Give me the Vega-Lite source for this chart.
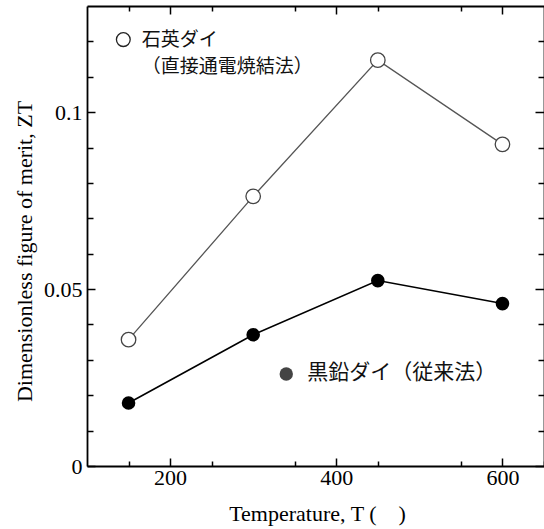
{
  "$schema": "https://vega.github.io/schema/vega-lite/v6.json",
  "width": 457,
  "height": 460,
  "autosize": "none",
  "padding": {"left": 87, "top": 6, "right": 0, "bottom": 63},
  "background": "white",
  "config": {
    "view": {"stroke": null},
    "axis": {
      "labelFont": "Liberation Serif",
      "titleFont": "Liberation Serif",
      "labelFontSize": 22,
      "titleFontSize": 22,
      "labelColor": "black",
      "titleColor": "black",
      "titleFontWeight": "normal",
      "domainColor": "black",
      "tickColor": "black",
      "domainWidth": 1.8,
      "tickWidth": 1.5,
      "grid": false
    }
  },
  "datasets": {
    "zt": [
      {"series": "quartz", "T": 150, "ZT": 0.0357},
      {"series": "quartz", "T": 300, "ZT": 0.0762},
      {"series": "quartz", "T": 450, "ZT": 0.1147},
      {"series": "quartz", "T": 600, "ZT": 0.0909},
      {"series": "graphite", "T": 150, "ZT": 0.0178},
      {"series": "graphite", "T": 300, "ZT": 0.0371},
      {"series": "graphite", "T": 450, "ZT": 0.0524},
      {"series": "graphite", "T": 600, "ZT": 0.0459}
    ],
    "quartzNotes": [
      {"text": "石英ダイ", "x": 166, "y": 0.12053},
      {"text": "（直接通電焼結法）", "x": 166, "y": 0.11262}
    ],
    "graphiteNotes": [
      {"text": "黒鉛ダイ（従来法）", "x": 365, "y": 0.0263}
    ],
    "openKey": [{"x": 143.7, "y": 0.1205}],
    "filledKey": [{"x": 339.8, "y": 0.026}]
  },
  "layer": [
    {
      "data": {"name": "zt"},
      "transform": [{"filter": "datum.series === 'quartz'"}],
      "mark": {"type": "line", "color": "#555555", "strokeWidth": 1.3},
      "encoding": {
        "x": {"field": "T", "type": "quantitative",
              "scale": {"domain": [100, 650], "nice": false, "zero": false},
              "axis": {"orient": "bottom", "values": [200, 400, 600], "tickSize": -8, "labelPadding": 9,
                       "title": "Temperature, T (\u00a0\u00a0\u00a0\u00a0)", "titleX": 230, "titleY": 54, "titleBaseline": "alphabetic", "titleAlign": "center"}},
        "y": {"field": "ZT", "type": "quantitative",
              "scale": {"domain": [0, 0.13], "nice": false, "zero": true},
              "axis": {"orient": "left", "values": [0, 0.05, 0.1], "format": "~g", "tickSize": -8, "labelPadding": 13,
                       "title": "Dimensionless figure of merit, ZT", "titleAngle": 270, "titleX": -63, "titleY": 245,
                       "titleBaseline": "middle", "titleAlign": "center"}}
      }
    },
    {
      "data": {"name": "zt"},
      "transform": [{"filter": "datum.series === 'quartz'"}],
      "mark": {"type": "point", "shape": "circle", "filled": true, "fill": "white", "stroke": "#444444", "strokeWidth": 1.3, "size": 210, "opacity": 1},
      "encoding": {
        "x": {"field": "T", "type": "quantitative",
              "axis": {"orient": "bottom", "values": [150, 250, 350, 450, 550, 650], "tickSize": -5, "labels": false, "domain": false, "title": null}},
        "y": {"field": "ZT", "type": "quantitative",
              "axis": {"orient": "left", "values": [0.01, 0.02, 0.03, 0.04, 0.06, 0.07, 0.08, 0.09, 0.11, 0.12], "tickSize": -6, "labels": false, "domain": false, "title": null}}
      }
    },
    {
      "data": {"name": "zt"},
      "transform": [{"filter": "datum.series === 'graphite'"}],
      "mark": {"type": "line", "color": "black", "strokeWidth": 1.6},
      "encoding": {
        "x": {"field": "T", "type": "quantitative",
              "axis": {"orient": "top", "values": [200, 400, 600], "tickSize": -8, "labels": false, "title": null}},
        "y": {"field": "ZT", "type": "quantitative",
              "axis": {"orient": "right", "values": [0, 0.05, 0.1], "tickSize": -9, "labels": false, "title": null}}
      }
    },
    {
      "data": {"name": "zt"},
      "transform": [{"filter": "datum.series === 'graphite'"}],
      "mark": {"type": "point", "shape": "circle", "filled": true, "fill": "black", "strokeWidth": 0, "size": 185, "opacity": 1},
      "encoding": {
        "x": {"field": "T", "type": "quantitative",
              "axis": {"orient": "top", "values": [150, 250, 350, 450, 550], "tickSize": -5, "labels": false, "domain": false, "title": null}},
        "y": {"field": "ZT", "type": "quantitative",
              "axis": {"orient": "right", "values": [0.01, 0.02, 0.03, 0.04, 0.06, 0.07, 0.08, 0.09, 0.11, 0.12], "tickSize": -6, "labels": false, "domain": false, "title": null}}
      }
    },
    {
      "data": {"name": "openKey"},
      "mark": {"type": "point", "shape": "circle", "filled": true, "fill": "white", "stroke": "#222222", "strokeWidth": 1.3, "size": 190, "opacity": 1},
      "encoding": {
        "x": {"field": "x", "type": "quantitative", "axis": null},
        "y": {"field": "y", "type": "quantitative", "axis": null}
      }
    },
    {
      "data": {"name": "filledKey"},
      "mark": {"type": "point", "shape": "circle", "filled": true, "fill": "#444444", "strokeWidth": 0, "size": 180, "opacity": 1},
      "encoding": {
        "x": {"field": "x", "type": "quantitative", "axis": null},
        "y": {"field": "y", "type": "quantitative", "axis": null}
      }
    },
    {
      "data": {"name": "quartzNotes"},
      "mark": {"type": "text", "font": "Noto Sans CJK JP", "fontSize": 19, "align": "left", "baseline": "middle", "color": "#111111"},
      "encoding": {
        "x": {"field": "x", "type": "quantitative", "axis": null},
        "y": {"field": "y", "type": "quantitative", "axis": null},
        "text": {"field": "text"}
      }
    },
    {
      "data": {"name": "graphiteNotes"},
      "mark": {"type": "text", "font": "Noto Sans CJK JP", "fontSize": 21, "align": "left", "baseline": "middle", "color": "#111111"},
      "encoding": {
        "x": {"field": "x", "type": "quantitative", "axis": null},
        "y": {"field": "y", "type": "quantitative", "axis": null},
        "text": {"field": "text"}
      }
    }
  ],
  "resolve": {"axis": {"x": "independent", "y": "independent"}}
}
